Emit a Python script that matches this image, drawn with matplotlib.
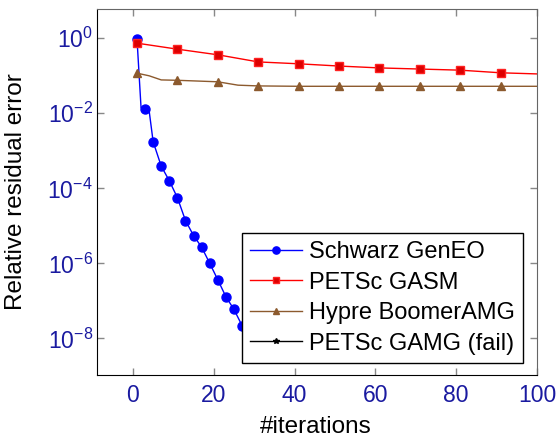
import matplotlib
matplotlib.use("Agg")
import matplotlib.pyplot as plt
import numpy as np

plt.rcParams['font.family'] = ['Liberation Sans', 'DejaVu Sans']
plt.rcParams['mathtext.fontset'] = 'custom'
plt.rcParams['mathtext.rm'] = 'Liberation Sans'

# Schwarz GenEO (log10 of residual)
schwarz_it = [1, 2, 3, 4, 5, 7, 9, 11, 13, 15, 17, 19, 21, 23, 25, 27, 29]
schwarz_log = [-0.02, -1.85, -1.89, -1.93, -2.76, -3.41, -3.80, -4.25, -4.86, -5.26,
               -5.57, -6.00, -6.44, -6.89, -7.23, -7.66, -8.05]
schwarz_marks = [0, 2, 4, 5, 6, 7, 8, 9, 10, 11, 12, 13, 14, 15, 16]

# PETSc GASM
gasm_it = [1, 11, 21, 31, 41, 51, 61, 71, 81, 91, 100]
gasm_log = [-0.13, -0.29, -0.44, -0.63, -0.68, -0.74, -0.79, -0.82, -0.85, -0.92, -0.95]

# Hypre BoomerAMG
hypre_it = [1, 4, 7, 11, 21, 26, 31, 41, 51, 61, 71, 81, 91, 100]
hypre_log = [-0.93, -1.00, -1.11, -1.12, -1.16, -1.25, -1.27, -1.28, -1.28, -1.28,
             -1.28, -1.28, -1.28, -1.28]
hypre_marks = [0, 3, 4, 6, 7, 8, 9, 10, 11, 12]

# PETSc GAMG (fail) - no converged data shown
gamg_it = []
gamg_vals = []

labels = ["Schwarz GenEO", "PETSc GASM", "Hypre BoomerAMG", "PETSc GAMG (fail)"]

fig = plt.figure(figsize=(5.58, 4.37), dpi=100)
ax = fig.add_axes([97/558, 1-374.7/437, (537-97)/558, (374.7-9.3)/437])

ax.plot(schwarz_it, 10**np.array(schwarz_log), color='#0000ff', lw=1.0, marker='o',
        ms=6.5, markevery=schwarz_marks, label=labels[0])
ax.plot(gasm_it, 10**np.array(gasm_log), color='#ff0000', lw=1.0, marker='s', ms=6,
        mfc='#dd0000', mec='#ff2222', markevery=list(range(10)), label=labels[1])
ax.plot(hypre_it, 10**np.array(hypre_log), color='#8c5a2e', lw=1.0, marker='^', ms=6,
        markevery=hypre_marks, label=labels[2])
ax.plot(gamg_it, gamg_vals, color='black', lw=1.0, marker='*', ms=5, label=labels[3])

ax.set_yscale('log')
ax.set_xlim(-8.9, 100)
ax.set_ylim(10**-8.97, 10**0.773)
ax.set_yticks([1e0, 1e-2, 1e-4, 1e-6, 1e-8])
ax.set_yticklabels([r'$10^{0}$', r'$10^{-2}$', r'$10^{-4}$', r'$10^{-6}$', r'$10^{-8}$'])
ax.minorticks_off()
ax.set_xticks([0, 20, 40, 60, 80, 100])

tick_col = '#1a1aa0'
ax.tick_params(axis='both', which='major', direction='in', length=5, width=1,
               color='#888888', labelsize=16.5, labelcolor=tick_col,
               top=True, right=True)
ax.tick_params(axis='y', pad=3)
ax.tick_params(axis='x', pad=7)
for s in ['left', 'bottom']:
    ax.spines[s].set_color('black')
for s in ['top', 'right']:
    ax.spines[s].set_color('#666666')

ax.set_xlabel('#iterations', fontsize=17.5)
ax.set_ylabel('Relative residual error', fontsize=17.5)
ax.xaxis.set_label_coords((316 - 97) / 440, -(427 - 374.7) / 365.4, transform=ax.transAxes)
ax.yaxis.set_label_coords(-(97 - 16) / 440, 0.5, transform=ax.transAxes)
ax.xaxis.label.set_va('center')
ax.yaxis.label.set_va('center')

leg = ax.legend(loc='lower right', fontsize=17, frameon=True, fancybox=False,
                edgecolor='black', framealpha=1, borderpad=0.35, labelspacing=0.36,
                handlelength=2.2, handletextpad=0.3, borderaxespad=0,
                markerscale=0.8,
                bbox_to_anchor=((523 - 97) / 440, (374.7 - 363) / 365.4))
leg.get_frame().set_linewidth(1.0)

fig.savefig('out.png', dpi=100)
